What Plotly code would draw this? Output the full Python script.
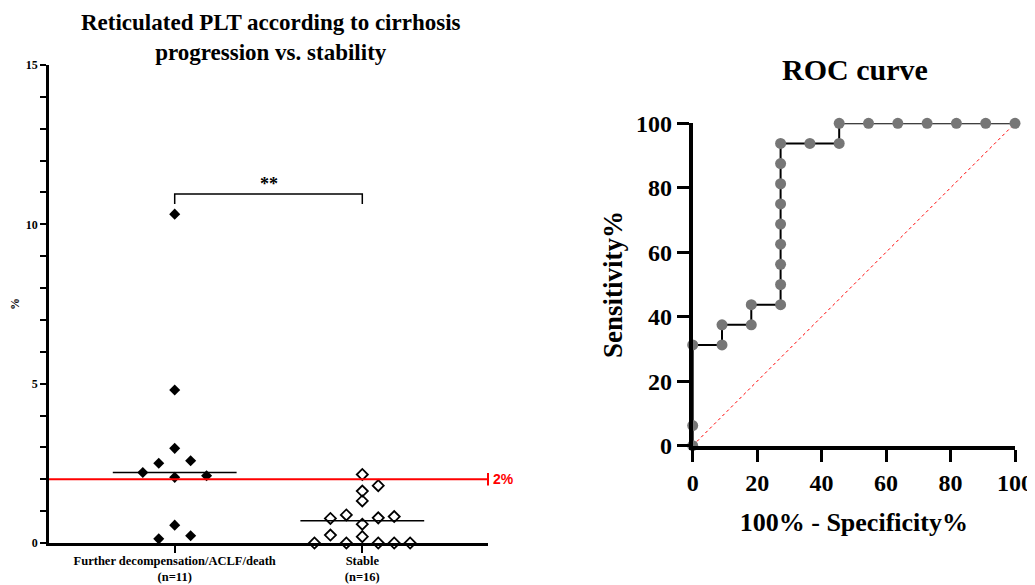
import plotly.graph_objects as go

# ---------------- data: left panel ----------------
categories = ["Further decompensation/ACLF/death<br>(n=11)", "Stable<br>(n=16)"]
progress_vals = [10.32, 4.80, 2.97, 2.50, 2.58, 2.21, 2.06, 2.11, 0.56, 0.23, 0.13]
progress_jitter = [0, 0, 0, -1, 1, -2, 0, 2, 0, 1, -1]
stable_vals = [2.15, 1.80, 1.63, 1.32, 0.77, 0.88, 0.79, 0.83, 0.59, 0.25, 0.20,
               0.0, 0.0, 0.0, 0.0, 0.0]
stable_jitter = [0, 1, 0, 0, -2, -1, 1, 2, 0, -2, 0, -3, -1, 1, 2, 3]
medians = [2.21, 0.70]
threshold = 2
sig_label = "**"
sig_height = [10.64, 10.95]
left_yticks = [0, 5, 10, 15]

# ---------------- data: ROC panel ----------------
roc_fpr = [0, 0, 0, 9.09, 9.09, 18.18, 18.18, 27.27, 27.27, 27.27, 27.27, 27.27,
           27.27, 27.27, 27.27, 27.27, 36.36, 45.45, 45.45, 54.55, 63.64, 72.73,
           81.82, 90.91, 100]
roc_tpr = [0, 6.25, 31.25, 31.25, 37.5, 37.5, 43.75, 43.75, 50, 56.25, 62.5, 68.75,
           75, 81.25, 87.5, 93.75, 93.75, 93.75, 100, 100, 100, 100, 100, 100, 100]
roc_ticks = [0, 20, 40, 60, 80, 100]

SERIF = "Liberation Serif, Times New Roman, serif"
JSTEP = 0.085
XR = [-0.67, 1.67]

# page body has an 8px margin; figure fills the rest of the window
OFF = 8
W, H = 1035 - OFF, 585 - OFF


def px(x):
    return (x - OFF) / W


def py(y):
    return 1 - (y - OFF) / H


fig = go.Figure()

# left panel points
fig.add_trace(go.Scatter(
    x=[0 + j * JSTEP for j in progress_jitter], y=progress_vals, mode="markers",
    marker=dict(symbol="diamond", size=8.5, color="black"),
    xaxis="x", yaxis="y", showlegend=False, cliponaxis=False))
fig.add_trace(go.Scatter(
    x=[1 + j * JSTEP for j in stable_jitter], y=stable_vals, mode="markers",
    marker=dict(symbol="diamond-open", size=8.5, color="black", line=dict(width=1.8)),
    xaxis="x", yaxis="y", showlegend=False, cliponaxis=False))

# medians
for i, m in enumerate(medians):
    fig.add_trace(go.Scatter(
        x=[i - 0.33, i + 0.33], y=[m, m], mode="lines",
        line=dict(color="black", width=1.5), xaxis="x", yaxis="y",
        showlegend=False, hoverinfo="skip"))

# threshold line with end cap
fig.add_trace(go.Scatter(
    x=[XR[0], XR[1]], y=[threshold, threshold], mode="lines",
    line=dict(color="red", width=2), xaxis="x", yaxis="y",
    showlegend=False, hoverinfo="skip", cliponaxis=False))
fig.add_trace(go.Scatter(
    x=[XR[1]], y=[threshold], mode="markers",
    marker=dict(symbol="line-ns-open", size=9, color="red", line=dict(width=2, color="red")),
    xaxis="x", yaxis="y", showlegend=False, hoverinfo="skip", cliponaxis=False))
fig.add_annotation(x=XR[1], y=threshold, xref="x", yref="y", text="<b>2%</b>",
                   showarrow=False, xanchor="left", yanchor="middle", xshift=3,
                   font=dict(family="Liberation Sans, Arial, sans-serif", size=14, color="red"))

# significance bracket
fig.add_trace(go.Scatter(
    x=[0, 0, 1, 1], y=[sig_height[0], sig_height[1], sig_height[1], sig_height[0]],
    mode="lines", line=dict(color="black", width=1.5), xaxis="x", yaxis="y",
    showlegend=False, hoverinfo="skip"))
fig.add_annotation(x=0.5, y=sig_height[1], xref="x", yref="y", text="<b>" + sig_label + "</b>",
                   showarrow=False, xanchor="center", yanchor="bottom", yshift=-2,
                   font=dict(family=SERIF, size=18, color="black"))

# ROC panel
fig.add_trace(go.Scatter(
    x=[0, 100], y=[0, 100], mode="lines",
    line=dict(color="red", width=1, dash="dot"), xaxis="x2", yaxis="y2",
    showlegend=False, hoverinfo="skip"))
fig.add_trace(go.Scatter(
    x=roc_fpr, y=roc_tpr, mode="lines+markers",
    line=dict(color="black", width=2),
    marker=dict(size=11, color="rgba(118,118,118,1)"),
    xaxis="x2", yaxis="y2", showlegend=False, cliponaxis=False))

# titles
fig.add_annotation(x=px(271), y=py(37), xref="paper", yref="paper",
                   xanchor="center", yanchor="middle",
                   text="<b>Reticulated PLT according to cirrhosis<br>progression vs. stability</b>",
                   showarrow=False, font=dict(family=SERIF, size=23, color="black"))
fig.add_annotation(x=px(855), y=py(69), xref="paper", yref="paper",
                   xanchor="center", yanchor="middle",
                   text="<b>ROC curve</b>", showarrow=False,
                   font=dict(family=SERIF, size=30, color="black"))

fig.update_layout(
    width=W, height=H,
    margin=dict(l=0, r=0, t=0, b=0, autoexpand=False),
    paper_bgcolor="white", plot_bgcolor="white",
    xaxis=dict(domain=[px(49), px(488)], range=XR, automargin=False,
               tickmode="array", tickvals=[0, 1], ticktext=categories,
               ticks="outside", ticklen=7, tickwidth=2, tickcolor="black",
               ticklabelstandoff=-3,
               showline=True, linewidth=2.5, linecolor="black",
               showgrid=False, zeroline=False, ticklabeloverflow="allow",
               tickfont=dict(family=SERIF, size=12.5, color="black", weight="bold"),
               anchor="y"),
    yaxis=dict(domain=[py(543), py(65)], range=[0, 15], automargin=False,
               tickmode="array", tickvals=left_yticks,
               ticks="outside", ticklen=6, tickwidth=2, tickcolor="black",
               minor=dict(dtick=1, ticks="outside", ticklen=6, tickwidth=2, tickcolor="black"),
               showline=True, linewidth=2.5, linecolor="black",
               showgrid=False, zeroline=False,
               tickfont=dict(family=SERIF, size=12, color="black", weight="bold"),
               title=dict(text="<b>%</b>", standoff=7,
                          font=dict(family=SERIF, size=12, color="black")),
               anchor="x"),
    xaxis2=dict(domain=[px(692.7), px(1015)], range=[0, 100], automargin=False,
                tickmode="array", tickvals=roc_ticks,
                ticks="outside", ticklen=12, tickwidth=3, tickcolor="black",
                showline=True, linewidth=4, linecolor="black",
                showgrid=False, zeroline=False, ticklabeloverflow="allow",
                tickfont=dict(family=SERIF, size=24, color="black", weight="bold"),
                title=dict(text="<b>100% - Specificity%</b>", standoff=19,
                           font=dict(family=SERIF, size=26, color="black")),
                anchor="y2"),
    yaxis2=dict(domain=[py(445.7), py(123.3)], range=[0, 100], automargin=False,
                tickmode="array", tickvals=roc_ticks,
                ticks="outside", ticklen=12, tickwidth=3, tickcolor="black",
                showline=True, linewidth=4, linecolor="black",
                showgrid=False, zeroline=False,
                tickfont=dict(family=SERIF, size=24, color="black", weight="bold"),
                title=dict(text="<b>Sensitivity%</b>", standoff=6,
                           font=dict(family=SERIF, size=27, color="black")),
                anchor="x2"),
)

fig.write_html("out.html")
